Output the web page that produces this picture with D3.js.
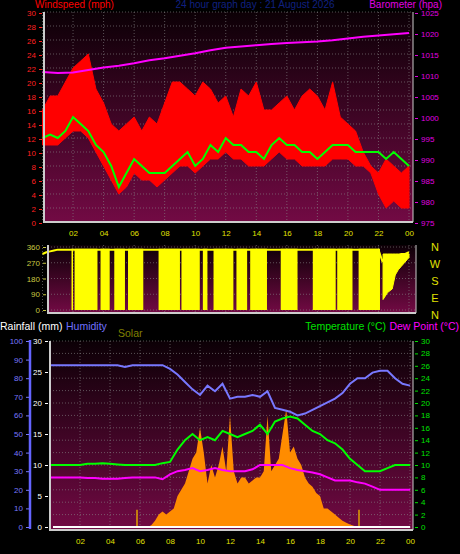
<!DOCTYPE html><html><head><meta charset="utf-8">
<script src="https://cdn.jsdelivr.net/npm/d3@7"></script>
<style>body{margin:0;background:#000}svg{display:block;font-family:"Liberation Sans",sans-serif}</style></head><body>
<script>
const halfHours = d3.range(0, 24.01, 0.5);
const windAvg = [12,12.5,12,13,15,14,13,11,10,8,5,7,9,8,7,7,7,8,9,10,8,9,11,10,12,11,11,10,10,9,11,12,11,11,10,10,9,10,11,11,11,10,10,10,10,9,10,9,8,7];
const gustHi = [16,18,18,20,22,23,24,19,17,14,13,14,15,13,15,14,17,20,20,19,18,20,19,17,18,15,19,18,20,16,16,17,18,16,18,19,18,16,20,15,14,13,10,8,7,9,8,7,8,9];
const gustLo = [11,11,11,12,13,13,12,10,8,6,4,5,7,6,6,5,6,7,8,8,7,8,9,9,10,9,9,8,8,8,9,10,9,9,8,8,8,8,9,9,9,8,8,7,4,2,3,2,2,3,3];
const hours = d3.range(0, 25);
const baro = [1010.7,1010.5,1010.6,1011.2,1011.8,1012.2,1012.8,1013.5,1014,1014.6,1015.2,1015.9,1016.5,1016.8,1017.1,1017.4,1017.6,1017.8,1018,1018.3,1018.7,1019.1,1019.4,1019.7,1020];
const quarterHours = d3.range(0, 24.01, 0.25);
const dirHi = [320,330,335,340,345,345,345,345,345,345,345,345,345,345,345,345,345,345,345,345,345,345,345,345,345,345,345,345,345,345,345,345,345,345,345,345,345,345,345,345,345,345,345,345,345,345,345,345,345,345,345,345,345,345,345,345,345,345,345,345,345,345,345,345,345,345,345,345,345,345,345,345,345,345,345,345,345,345,345,345,345,345,345,345,345,345,345,345,345,280,300,250,290,310,320,320,330];
const swingStart = [1.9,2.1,3.8,4.7,5.6,7.6,9.1,10.5,11.2,12.7,13.6,15.6,17.7,19.3,20.7];
const swingEnd   = [1.95,3.6,4.4,5.4,6.6,9.0,10.3,10.8,12.5,13.4,14.7,16.7,19.2,20.3,22.1];
const lateHour = [22.3,22.6,22.9,23.1,23.3,23.5,23.7,23.9,24];
const lateLo = [60,100,120,200,230,250,270,290,300];
const humidity = [87,87,87,87,87,87,87,87,87,87,86,87,87,87,87,87,85,82,78,74,71,76,73,77,69,70,70,71,70,73,64,63,62,60,61,63,65,67,69,72,77,80,80,83,84,84,80,77,76];
const temp = [10,10,10,10,10,10.2,10.2,10.3,10.2,10.1,10,10,10,10,10,10.3,10.5,12.5,14,15,14,14.5,14,15.5,15,14.5,15,15.5,16.5,15,17,17.5,17.8,17.5,16.5,15.5,15,14,13.5,12.5,11,10,9,9,9,9.5,10,10,10];
const dew = [8,8,8,8,8,7.9,7.9,7.8,7.8,7.8,7.9,8,8,8,8,7.7,8.5,9,9.2,9.5,9,9.2,9.5,9.2,9,9,9,9.3,10,10,10,10,9.5,9.2,9,8.8,8.5,8,7.5,7.5,7.5,7.2,7,6.5,6,6,6,6,6];
const solar = [0,0,0,0,0,0,0,0,0,0,0,0,0,0,0,0,0,0,0,0,0,0,0,0,0,0,0,0.3,1,2,2.5,2,2.5,3,5,6,7,9,11,12,16,12,7,10,8,10,13,9,18,9,7,8,8,7,7.5,8,8,9,18,9,10,11,15,19,12,13,11,10,8,7,6.5,5.5,5,3,3,2.5,2,1.5,1,0.7,0.4,0.2,0,0,0,0,0,0,0,0,0,0,0,0,0,0,0];
const hourTicks = [2,4,6,8,10,12,14,16,18,20,22,24];
const windTicks = d3.range(0, 31, 2);
const baroTicks = [975,980,985,990,995,1000,1005,1010,1015,1020,1025];
const dirTicks = [0,90,180,270,360];
const compass = ["N","W","S","E","N"];
const humTicks = d3.range(0, 101, 10);
const rainTicks = [0,5,10,15,20,25,30];
const tempTicks = d3.range(0, 31, 2);
const fmtH = h => String(h % 24).padStart(2, "0");

const svg = d3.select("body").append("svg").attr("width",460).attr("height",554);
const defs = svg.append("defs");
const g = defs.append("linearGradient").attr("id","bg").attr("x1",0).attr("x2",0).attr("y1",0).attr("y2",1);
g.append("stop").attr("offset",0).attr("stop-color","#0c0006");
g.append("stop").attr("offset",1).attr("stop-color","#720a44");

function panel(x0,x1,y0,y1){
  svg.append("rect").attr("x",x0).attr("y",y0).attr("width",x1-x0).attr("height",y1-y0).attr("fill","url(#bg)");
}
function grid(x, y, xs, ys, x0,x1,y0,y1){
  const gg = svg.append("g").attr("stroke","#888").attr("stroke-opacity",0.6).attr("stroke-dasharray","1,2").attr("stroke-width",1);
  xs.forEach(v=>gg.append("line").attr("x1",x(v)).attr("x2",x(v)).attr("y1",y0).attr("y2",y1));
  ys.forEach(v=>gg.append("line").attr("x1",x0).attr("x2",x1).attr("y1",y(v)).attr("y2",y(v)));
}
function frame(x0,x1,y0,y1){
  svg.append("path").attr("d",`M${x0},${y0}V${y1}H${x1}`).attr("stroke","#ccc").attr("stroke-width",2).attr("fill","none");
  svg.append("line").attr("x1",x1).attr("x2",x1).attr("y1",y0).attr("y2",y1).attr("stroke","#ccc").attr("stroke-width",1);
}
function txt(x,y,s,col,size,anchor){
  return svg.append("text").attr("x",x).attr("y",y).text(s).attr("fill",col).attr("font-size",size).attr("text-anchor",anchor||"start");
}
function axis(gen, tx, col){
  const a = svg.append("g").attr("transform",tx).call(gen);
  a.select(".domain").remove();
  a.selectAll("line").attr("stroke",col);
  a.selectAll("text").attr("fill",col).attr("font-size",8);
  return a;
}

// ---- Panel 1 ----
const x1 = d3.scaleLinear().domain([0,24]).range([42.5,409]);
const yW = d3.scaleLinear().domain([0,30]).range([222,12]);
const yB = d3.scaleLinear().domain([975,1025]).range([222,12]);
panel(44,413,12,222);
grid(x1,yW,[0,...hourTicks],windTicks,44,413,12,222);
svg.append("path").datum(halfHours).attr("fill","#ff0000").attr("stroke","#ff0000").attr("stroke-width",1)
  .attr("d",d3.area().x(h=>x1(h)).y0((h,i)=>yW(gustLo[i])).y1((h,i)=>yW(gustHi[i])));
svg.append("path").datum(halfHours).attr("fill","none").attr("stroke","#00ff00").attr("stroke-width",2)
  .attr("d",d3.line().x(h=>x1(h)).y((h,i)=>yW(windAvg[i])));
svg.append("path").datum(hours).attr("fill","none").attr("stroke","#ff00ff").attr("stroke-width",2)
  .attr("d",d3.line().x(h=>x1(h)).y((h,i)=>yB(baro[i])));
frame(44,413,12,222);
axis(d3.axisLeft(yW).tickValues(windTicks).tickSize(3),"translate(42,1)","#ff2020");
axis(d3.axisRight(yB).tickValues(baroTicks).tickFormat(d3.format("d")).tickSize(3),"translate(415,1)","#e000e0");
axis(d3.axisBottom(x1).tickValues(hourTicks).tickFormat(fmtH).tickSize(0).tickPadding(6),"translate(0,224)","#e0e000");
txt(35,8,"Windspeed (mph)","#ff0000",10);
txt(255,8,"24 hour graph day : 21 August 2026","#102080",10,"middle");
txt(442,8,"Barometer (hpa)","#e000e0",10,"end");

// ---- Panel 2 ----
const yD = d3.scaleLinear().domain([0,360]).range([310,247]);
panel(48,416,245,313);
grid(x1,yD,[0,...hourTicks],dirTicks,48,416,245,313);
swingStart.forEach((s,i)=>svg.append("rect").attr("x",x1(s)).attr("width",Math.max(1.5,x1(swingEnd[i])-x1(s)))
  .attr("y",yD(350)).attr("height",yD(0)-yD(350)).attr("fill","#ffff00"));
svg.append("path").datum(lateHour).attr("fill","#ffff00").attr("stroke","#ffff00")
  .attr("d",d3.area().x(h=>x1(h)).y0((h,i)=>yD(lateLo[i])).y1(yD(320)));
svg.append("path").datum(quarterHours).attr("fill","none").attr("stroke","#ffff00").attr("stroke-width",2)
  .attr("d",d3.line().x(h=>x1(h)).y((h,i)=>yD(dirHi[i])));
frame(48,416,245,313);
axis(d3.axisLeft(yD).tickValues(dirTicks).tickSize(3),"translate(46,0)","#c8c840");
compass.forEach((c,i)=>txt(435,251+i*17,c,"#e0e000",11,"middle"));

// ---- Panel 3 ----
const x3 = d3.scaleLinear().domain([0,24]).range([50,410]);
const y3 = d3.scaleLinear().domain([0,30]).range([527,341]);
const yH = d3.scaleLinear().domain([0,100]).range([527,341]);
panel(50,413,341,530);
grid(x3,y3,hourTicks,tempTicks,50,413,341,530);
svg.append("path").datum(quarterHours).attr("fill","#ff8c00")
  .attr("d",d3.area().x(h=>x3(h)).y0(y3(0)).y1((h,i)=>y3(solar[i])));
[5.8,20.6].forEach(h=>svg.append("line").attr("x1",x3(h)).attr("x2",x3(h)).attr("y1",y3(0)).attr("y2",y3(2.8)).attr("stroke","#e0a000").attr("stroke-width",1.5));
svg.append("line").attr("x1",x3(0.2)).attr("x2",x3(24)).attr("y1",y3(0)).attr("y2",y3(0)).attr("stroke","#fff").attr("stroke-width",2);
const line3 = (arr,sc)=>d3.line().x(h=>x3(h)).y((h,i)=>sc(arr[i]));
const hh = halfHours.slice(0,49);
svg.append("path").datum(hh).attr("fill","none").attr("stroke","#ff00ff").attr("stroke-width",2).attr("d",line3(dew,y3));
svg.append("path").datum(hh).attr("fill","none").attr("stroke","#00ff00").attr("stroke-width",2).attr("d",line3(temp,y3));
svg.append("path").datum(hh).attr("fill","none").attr("stroke","#7878ff").attr("stroke-width",2).attr("d",line3(humidity,yH));
frame(50,413,341,530);
svg.append("line").attr("x1",30).attr("x2",30).attr("y1",340).attr("y2",529).attr("stroke","#6464ff").attr("stroke-width",2.5);
axis(d3.axisLeft(yH).tickValues(humTicks).tickSize(3),"translate(29,0)","#7878ff");
axis(d3.axisLeft(y3).tickValues(rainTicks).tickSize(3),"translate(48,0)","#ffffff");
axis(d3.axisRight(y3).tickValues(tempTicks).tickSize(3),"translate(415,0)","#00e000");
axis(d3.axisBottom(x3).tickValues(hourTicks).tickFormat(fmtH).tickSize(0).tickPadding(6),"translate(0,532)","#e0e000");
txt(0,330,"Rainfall (mm)","#ffffff",10.5);
txt(66,330,"Humidity","#7070ff",10.5);
txt(118,337,"Solar","#808000",10.5);
txt(386,330,"Temperature (°C)","#00e000",10.5,"end");
txt(459,330,"Dew Point (°C)","#ff00ff",10.5,"end");
</script></body></html>
